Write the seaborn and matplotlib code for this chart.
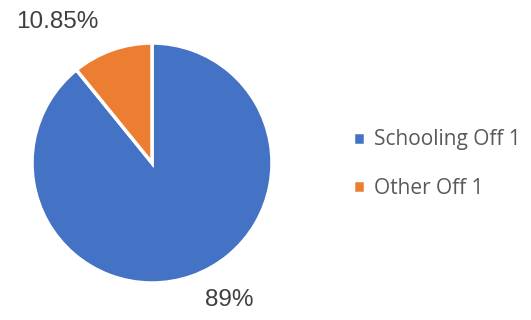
import matplotlib
matplotlib.use("Agg")
import matplotlib.pyplot as plt
import seaborn as sns

sns.set_theme(style="white")
plt.rcParams['font.family'] = ['Liberation Sans', 'DejaVu Sans']

categories = ["Schooling Off 1", "Other Off 1"]
values = [89.15, 10.85]
value_labels = ["89%", "10.85%"]
colors = ["#4472C4", "#ED7D31"]

fig = plt.figure(figsize=(5.31, 3.2), dpi=100)
ax = fig.add_axes([32/531, 37/320, 240/531, 240/320])
wedges, _ = ax.pie(values, colors=colors, startangle=90, counterclock=False,
                   wedgeprops=dict(edgecolor="white", linewidth=2.5))
ax.set_xlim(-1, 1)
ax.set_ylim(-1, 1)
ax.set_aspect("equal")

label_pos = [(0.64, -1.14), (-0.79, 1.175)]
for (x, y), t in zip(label_pos, value_labels):
    ax.text(x, y, t, ha="center", va="center", fontsize=17.5, color="#404040",
            clip_on=False)

leg = fig.legend(wedges, categories, loc="center left",
                 bbox_to_anchor=(334/531, 1 - 164/320), frameon=False,
                 handlelength=0.6, handleheight=0.6, handletextpad=0.4,
                 labelspacing=1.3, prop={'family': ['Open Sans', 'DejaVu Sans'], 'size': 15})
for t in leg.get_texts():
    t.set_color("#595959")

fig.savefig("out.png", dpi=100)
